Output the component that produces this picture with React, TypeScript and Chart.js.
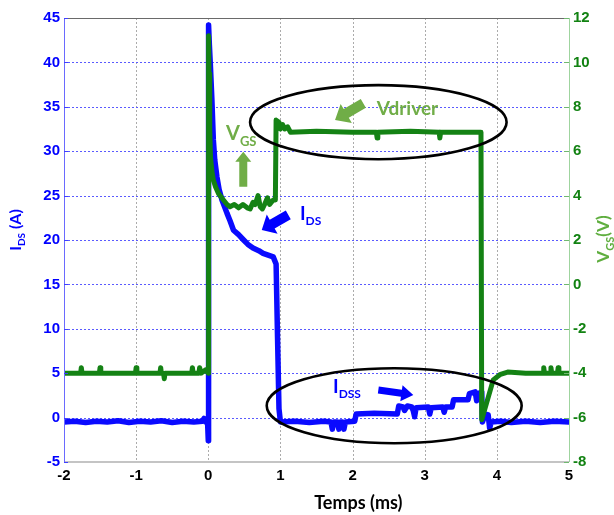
import React, { useEffect, useRef } from "react";
import { Chart, registerables } from "chart.js";

Chart.register(...registerables);

// ---------- data ----------
const idsTime: number[] = [
  -2.0, -1.85, -1.7, -1.55, -1.4, -1.25, -1.1, -0.95, -0.8, -0.65, -0.5, -0.35, -0.2, -0.08, -0.06, -0.04, -0.01,
  0.0, 0.004, 0.015, 0.03, 0.05, 0.07, 0.09, 0.12, 0.15, 0.19, 0.26, 0.3, 0.35, 0.42, 0.49, 0.55, 0.62, 0.7, 0.76,
  0.83, 0.9, 0.94, 0.96, 0.98, 1.0, 1.2, 1.4, 1.6, 1.7, 1.72, 1.74, 1.79, 1.81, 1.83, 1.86, 1.88, 1.9, 2.03, 2.05,
  2.3, 2.62, 2.64, 2.7, 2.72, 2.76, 2.82, 2.84, 2.86, 2.88, 3.05, 3.07, 3.09, 3.25, 3.27, 3.29, 3.38, 3.4, 3.6,
  3.62, 3.7, 3.72, 3.74, 3.79, 3.8, 3.84, 3.88, 3.9, 3.92, 4.05, 4.2, 4.4, 4.6, 4.8, 5.0,
];
const idsCurrent: number[] = [
  -0.5, -0.4, -0.55, -0.4, -0.5, -0.35, -0.55, -0.4, -0.5, -0.35, -0.55, -0.4, -0.5, -0.4, -0.1, -0.5, -0.5,
  -2.6, 44.2, 42, 39.5, 35.8, 31.3, 29, 27.1, 25.7, 24.5, 23, 22.2, 21.1, 20.6, 20, 19.5, 19.1, 18.8, 18.5,
  18.3, 18.1, 17.3, 9, 1, -0.5, -0.4, -0.55, -0.4, -0.5, -1.3, -0.5, -0.5, -1.3, -0.5, -0.5, -1.3, -0.5, -0.4, 0.4,
  0.5, 0.4, 1.3, 1.2, 0.8, 1.3, 1.2, 0.8, 0.1, 1.1, 1.2, 0.4, 1.1, 1.2, 0.6, 1.2, 1.2, 2.0, 2.0,
  2.7, 2.9, 1.9, 2.7, 2.9, -0.5, 0.4, 0.3, -1.2, -0.5, -0.4, -0.55, -0.4, -0.55, -0.4, -0.5,
];

const vgsTime: number[] = [
  -2.0, -1.77, -1.76, -1.75, -1.51, -1.5, -1.49, -1.01, -1.0, -0.99, -0.67, -0.66, -0.65, -0.62, -0.61, -0.6,
  -0.23, -0.22, -0.21, -0.13, -0.12, -0.1, -0.04, 0.0, 0.004, 0.01, 0.02, 0.03, 0.05, 0.07, 0.1, 0.14, 0.21,
  0.26, 0.3, 0.36, 0.42, 0.48, 0.54, 0.58, 0.62, 0.65, 0.69, 0.72, 0.75, 0.78, 0.82, 0.85, 0.9, 0.93, 0.94,
  0.98, 1.0, 1.03, 1.06, 1.1, 1.14, 1.5, 2.0, 2.33, 2.34, 2.35, 2.8, 3.2, 3.21, 3.22, 3.78, 3.79, 3.95, 4.05,
  4.15, 4.4, 4.64, 4.65, 4.66, 4.74, 4.75, 4.76, 4.84, 4.85, 4.86, 5.0,
];
const vgsVoltage: number[] = [
  -4, -4, -3.75, -4, -4, -3.75, -4, -4, -3.75, -4, -4, -3.75, -4, -4, -4.25, -4,
  -4, -3.75, -4, -4, -3.75, -4, -3.85, -4, 11.2, 9.5, 7, 5.75, 5.1, 4.7, 4.4, 4.1, 3.8,
  3.6, 3.5, 3.6, 3.45, 3.6, 3.45, 3.4, 3.7, 3.6, 4.0, 3.5, 3.4, 3.6, 3.9, 3.6, 3.8, 3.8, 7.4,
  7.3, 7.0, 7.2, 7.0, 7.1, 6.85, 6.9, 6.85, 6.85, 6.6, 6.85, 6.9, 6.85, 6.6, 6.85, 6.85, -6.1, -4.3, -4.05,
  -3.95, -4.0, -4.0, -3.75, -4, -4, -3.75, -4, -4, -3.75, -4, -4,
];

const timeTicks = { min: -2, max: 5, step: 1 };
const idsTicks = { min: -5, max: 45, step: 5 };
const vgsTicks = { min: -8, max: 12, step: 2 };

// annotation geometry (in data units: ms / A on the left axis)
const ellipses = [
  { cx: 2.357, cy: 33.27, rx: 1.778, ry: 4.17 },
  { cx: 2.577, cy: 1.33, rx: 1.767, ry: 4.22 },
];
const arrows = [
  { x1: 2.149, y1: 35.39, x2: 1.757, y2: 33.51, sw: 5, hw: 11, hl: 13, color: "#70AD47" },
  { x1: 0.485, y1: 26.0, x2: 0.485, y2: 29.94, sw: 4, hw: 8, hl: 10, color: "#70AD47" },
  { x1: 1.109, y1: 22.82, x2: 0.741, y2: 21.13, sw: 5, hw: 11, hl: 12, color: "#0000FF" },
  { x1: 2.357, y1: 3.11, x2: 2.842, y2: 2.55, sw: 3.5, hw: 8, hl: 12, color: "#0000FF" },
];
const labels = [
  { x: 2.335, y: 34.83, main: "Vdriver", sub: "", color: "#70AD47", size: 19, middle: true },
  { x: 0.246, y: 31.26, main: "V", sub: "GS", color: "#70AD47", size: 20, middle: false },
  { x: 1.271, y: 22.25, main: "I", sub: "DS", color: "#0000FF", size: 19, middle: false },
  { x: 1.729, y: 2.77, main: "I", sub: "DSS", color: "#0000FF", size: 19, middle: false },
];

const LABEL_FONT = "Lato, 'Open Sans', sans-serif";
const TICK_FONT = "'Liberation Sans', Arial, sans-serif";

function drawArrow(ctx: CanvasRenderingContext2D, x1: number, y1: number, x2: number, y2: number, sw: number, hw: number, hl: number, color: string) {
  const dx = x2 - x1, dy = y2 - y1;
  const len = Math.hypot(dx, dy);
  const ux = dx / len, uy = dy / len;
  const nx = -uy, ny = ux;
  const bx = x2 - ux * hl, by = y2 - uy * hl;
  ctx.beginPath();
  ctx.moveTo(x1 + nx * sw, y1 + ny * sw);
  ctx.lineTo(bx + nx * sw, by + ny * sw);
  ctx.lineTo(bx + nx * hw, by + ny * hw);
  ctx.lineTo(x2, y2);
  ctx.lineTo(bx - nx * hw, by - ny * hw);
  ctx.lineTo(bx - nx * sw, by - ny * sw);
  ctx.lineTo(x1 - nx * sw, y1 - ny * sw);
  ctx.closePath();
  ctx.fillStyle = color;
  ctx.fill();
}

function drawSubText(ctx: CanvasRenderingContext2D, x: number, y: number, parts: { t: string; sub: boolean }[], size: number, color: string) {
  let cx = x;
  ctx.fillStyle = color;
  ctx.textAlign = "left";
  ctx.textBaseline = "alphabetic";
  for (const p of parts) {
    const fs = p.sub ? Math.round(size * 0.65) : size;
    ctx.font = `bold ${fs}px ${LABEL_FONT}`;
    ctx.fillText(p.t, cx, p.sub ? y + size * 0.28 : y);
    cx += ctx.measureText(p.t).width;
  }
}

function measureParts(ctx: CanvasRenderingContext2D, parts: { t: string; sub: boolean }[], size: number) {
  let w = 0;
  for (const p of parts) {
    const fs = p.sub ? Math.round(size * 0.65) : size;
    ctx.font = `bold ${fs}px ${LABEL_FONT}`;
    w += ctx.measureText(p.t).width;
  }
  return w;
}

const overlayPlugin = {
  id: "overlay",
  beforeDatasetsDraw(chart: any) {
    const ctx: CanvasRenderingContext2D = chart.ctx;
    const xs = chart.scales.x;
    const ys = chart.scales.y;
    const { left, right, top, bottom } = chart.chartArea;
    ctx.save();
    ctx.lineWidth = 1;
    ctx.setLineDash([2, 2]);
    ctx.strokeStyle = "#ababab";
    for (let v = timeTicks.min + 1; v < timeTicks.max; v += timeTicks.step) {
      const px = Math.round(xs.getPixelForValue(v)) + 0.5;
      ctx.beginPath();
      ctx.moveTo(px, top);
      ctx.lineTo(px, bottom);
      ctx.stroke();
    }
    ctx.strokeStyle = "#5a5aff";
    for (let v = idsTicks.min + idsTicks.step; v < idsTicks.max; v += idsTicks.step) {
      const py = Math.round(ys.getPixelForValue(v)) + 0.5;
      ctx.beginPath();
      ctx.moveTo(left, py);
      ctx.lineTo(right, py);
      ctx.stroke();
    }
    ctx.restore();
  },
  afterDatasetsDraw(chart: any) {
    const ctx: CanvasRenderingContext2D = chart.ctx;
    const xs = chart.scales.x;
    const ys = chart.scales.y;
    const ys1 = chart.scales.y1;
    const { left, right, top, bottom } = chart.chartArea;
    ctx.save();
    // frame lines
    ctx.strokeStyle = "#6a6a6a";
    ctx.lineWidth = 1;
    ctx.beginPath();
    ctx.moveTo(left, top + 0.5);
    ctx.lineTo(right, top + 0.5);
    ctx.stroke();
    ctx.strokeStyle = "#c4c4c4";
    ctx.lineWidth = 2;
    ctx.beginPath();
    ctx.moveTo(left, bottom);
    ctx.lineTo(right, bottom);
    ctx.stroke();
    ctx.lineWidth = 1;
    ctx.strokeStyle = "#6a6aff";
    ctx.beginPath();
    ctx.moveTo(left + 0.5, top);
    ctx.lineTo(left + 0.5, bottom);
    ctx.stroke();
    ctx.strokeStyle = "#9fd49f";
    ctx.beginPath();
    ctx.moveTo(right + 0.5, top);
    ctx.lineTo(right + 0.5, bottom);
    ctx.stroke();
    // inner ticks
    ctx.strokeStyle = "#4040ff";
    for (let v = idsTicks.min; v <= idsTicks.max; v += idsTicks.step) {
      const py = Math.round(ys.getPixelForValue(v)) + 0.5;
      ctx.beginPath();
      ctx.moveTo(left, py);
      ctx.lineTo(left + 4, py);
      ctx.stroke();
    }
    ctx.strokeStyle = "#70b870";
    for (let v = vgsTicks.min; v <= vgsTicks.max; v += vgsTicks.step) {
      const py = Math.round(ys1.getPixelForValue(v)) + 0.5;
      ctx.beginPath();
      ctx.moveTo(right - 5, py);
      ctx.lineTo(right, py);
      ctx.stroke();
    }
    // ellipses
    ctx.strokeStyle = "#000";
    ctx.lineWidth = 2.6;
    for (const e of ellipses) {
      const cx = xs.getPixelForValue(e.cx);
      const cy = ys.getPixelForValue(e.cy);
      const rx = Math.abs(xs.getPixelForValue(e.cx + e.rx) - cx);
      const ry = Math.abs(ys.getPixelForValue(e.cy + e.ry) - cy);
      ctx.beginPath();
      ctx.ellipse(cx, cy, rx, ry, 0, 0, Math.PI * 2);
      ctx.stroke();
    }
    // arrows
    for (const a of arrows) {
      drawArrow(ctx, xs.getPixelForValue(a.x1), ys.getPixelForValue(a.y1), xs.getPixelForValue(a.x2), ys.getPixelForValue(a.y2), a.sw, a.hw, a.hl, a.color);
    }
    // labels
    for (const l of labels) {
      const px = xs.getPixelForValue(l.x);
      const py = ys.getPixelForValue(l.y);
      const parts = [{ t: l.main, sub: false }];
      if (l.sub) parts.push({ t: l.sub, sub: true });
      const baseY = l.middle ? py + l.size * 0.35 : py;
      drawSubText(ctx, px, baseY, parts, l.size, l.color);
    }
    ctx.restore();
  },
  afterDraw(chart: any) {
    const ctx: CanvasRenderingContext2D = chart.ctx;
    const xs = chart.scales.x;
    ctx.save();
    // x title (sits right of the axis centre in the reference)
    ctx.font = `bold 18px ${LABEL_FONT}`;
    ctx.fillStyle = "#000";
    ctx.textAlign = "center";
    ctx.textBaseline = "middle";
    ctx.fillText("Temps (ms)", xs.getPixelForValue(2.08), 503);
    // left title
    const lp = [
      { t: "I", sub: false },
      { t: "DS", sub: true },
      { t: " (A)", sub: false },
    ];
    ctx.save();
    ctx.translate(21, 230);
    ctx.rotate(-Math.PI / 2);
    const lw = measureParts(ctx, lp, 16);
    drawSubText(ctx, -lw / 2, 0, lp, 16, "#0000FF");
    ctx.restore();
    // right title
    const rp = [
      { t: "V", sub: false },
      { t: "GS", sub: true },
      { t: "(V)", sub: false },
    ];
    ctx.save();
    ctx.translate(609, 239);
    ctx.rotate(-Math.PI / 2);
    const rw = measureParts(ctx, rp, 17);
    drawSubText(ctx, -rw / 2, 0, rp, 17, "#5FAE3F");
    ctx.restore();
    ctx.restore();
  },
};

export default function App() {
  const ref = useRef<HTMLCanvasElement | null>(null);
  useEffect(() => {
    if (!ref.current) return;
    const idsData = idsTime.map((t, i) => ({ x: t, y: idsCurrent[i] }));
    const vgsData = vgsTime.map((t, i) => ({ x: t, y: vgsVoltage[i] }));
    const chart = new Chart(ref.current, {
      type: "line",
      data: {
        datasets: [
          {
            label: "VGS",
            data: vgsData,
            yAxisID: "y1",
            borderColor: "#148214",
            borderWidth: 5,
            pointRadius: 0,
            tension: 0,
            fill: false,
            borderJoinStyle: "round",
            borderCapStyle: "round",
          },
          {
            label: "IDS",
            data: idsData,
            yAxisID: "y",
            borderColor: "#0a0aff",
            borderWidth: 5.5,
            pointRadius: 0,
            tension: 0,
            fill: false,
            borderJoinStyle: "round",
            borderCapStyle: "round",
          },
        ],
      },
      options: {
        responsive: false,
        animation: false,
        layout: { padding: { top: 18, left: 0, right: 0, bottom: 0 } },
        plugins: { legend: { display: false }, tooltip: { enabled: false } },
        scales: {
          x: {
            type: "linear",
            min: timeTicks.min,
            max: timeTicks.max,
            afterFit: (s: any) => {
              s.height = 53;
            },
            ticks: {
              stepSize: timeTicks.step,
              padding: 5,
              color: "#000",
              font: { family: TICK_FONT, size: 15, weight: "bold" },
            },
            grid: { display: false, drawTicks: false },
            border: { display: false },
          },
          y: {
            type: "linear",
            position: "left",
            min: idsTicks.min,
            max: idsTicks.max,
            afterFit: (s: any) => {
              s.width = 64;
            },
            ticks: {
              stepSize: idsTicks.step,
              padding: 4,
              color: "#0000FF",
              font: { family: TICK_FONT, size: 15, weight: "bold" },
            },
            grid: { display: false, drawTicks: false },
            border: { display: false },
          },
          y1: {
            type: "linear",
            position: "right",
            min: vgsTicks.min,
            max: vgsTicks.max,
            afterFit: (s: any) => {
              s.width = 45;
            },
            ticks: {
              stepSize: vgsTicks.step,
              padding: 4,
              color: "#128212",
              font: { family: TICK_FONT, size: 15, weight: "bold" },
            },
            grid: { display: false, drawTicks: false },
            border: { display: false },
          },
        },
      },
      plugins: [overlayPlugin],
    } as any);
    return () => chart.destroy();
  }, []);
  return (
    <div style={{ position: "fixed", left: 0, top: 0, width: 614, height: 515, background: "#fff" }}>
      <canvas ref={ref} width={614} height={515} style={{ display: "block", width: 614, height: 515 }} />
    </div>
  );
}
